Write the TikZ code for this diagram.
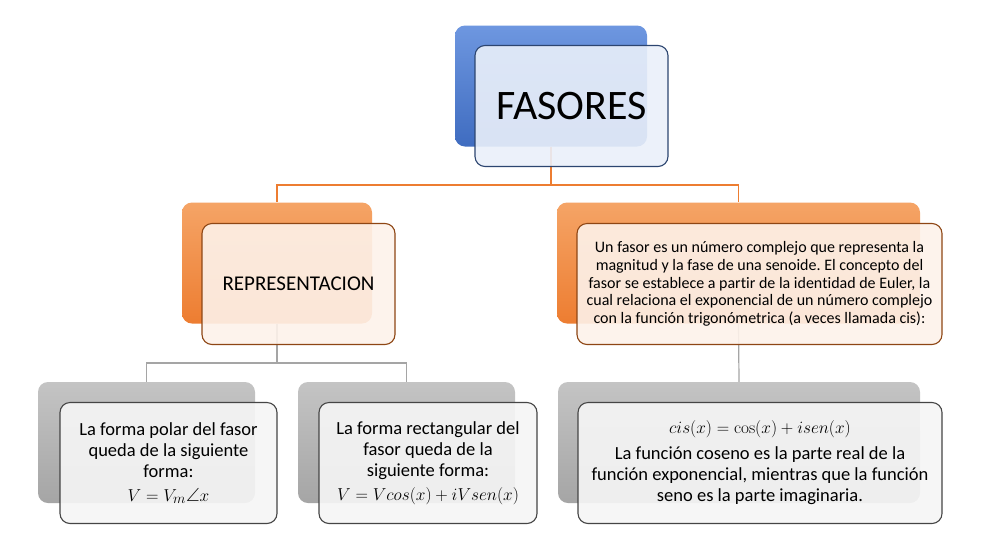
\documentclass[tikz,border=0pt]{standalone}
\usepackage{amsmath,amssymb}
\usepackage[no-math]{fontspec}
\setmainfont{Carlito}[Ligatures=NoCommon]
\usetikzlibrary{positioning}
\frenchspacing
\definecolor{azul}{HTML}{3F6CC0}
\definecolor{azulclaro}{HTML}{6E97E0}
\definecolor{azulfondo}{HTML}{EAF0FA}
\definecolor{azulborde}{HTML}{2C4570}
\definecolor{naranja}{HTML}{ED7D31}
\definecolor{naranjaclaro}{HTML}{F5A466}
\definecolor{naranjafondo}{HTML}{FDF2EA}
\definecolor{naranjaborde}{HTML}{8E4614}
\definecolor{gris}{HTML}{A5A5A5}
\definecolor{grisclaro}{HTML}{C4C4C4}
\definecolor{grisfondo}{HTML}{F6F6F6}
\definecolor{grisborde}{HTML}{454545}
\newcommand{\formula}[1]{{\fontsize{19}{21}\selectfont$#1$}}
\begin{document}
\begin{tikzpicture}[x=1pt,y=-1pt,
	caja/.style={rounded corners=10pt,minimum width=#1,minimum height=121pt,inner sep=0pt},
	frente/.style={fill opacity=0.9,text opacity=1,line width=1.1pt,align=center},
	azulada/.style={caja=#1,frente,draw=azulborde,fill=azulfondo},
	naranjada/.style={caja=#1,frente,draw=naranjaborde,fill=naranjafondo},
	grisada/.style={caja=#1,frente,draw=grisborde,fill=grisfondo},
	txt/.style={font=\fontsize{18.5}{21}\selectfont}]
\useasboundingbox[fill=white] (0,0) rectangle (1008,555);
\node[caja=192pt,top color=azulclaro,bottom color=azul] (fasores0) at (551,86) {};
\node[caja=190pt,top color=naranjaclaro,bottom color=naranja] (repr0) at (277,263) {};
\node[caja=363pt,top color=naranjaclaro,bottom color=naranja] (fasor0) at (738.5,263) {};
\node[caja=217pt,top color=grisclaro,bottom color=gris] (polar0) at (146.5,442.5) {};
\node[caja=217pt,top color=grisclaro,bottom color=gris] (rect0) at (406.5,442.5) {};
\node[caja=362pt,top color=grisclaro,bottom color=gris] (cis0) at (739,442.5) {};
\coordinate (rama1) at (0,185);
\coordinate (rama2) at (0,363);
\draw[naranja,line width=1.2pt] (fasores0.south) -- (fasores0.south |- rama1) -| (repr0.north);
\draw[naranja,line width=1.2pt] (fasores0.south |- rama1) -| (fasor0.north);
\draw[gris,line width=1.2pt] (repr0.south) -- (repr0.south |- rama2) -| (polar0.north);
\draw[gris,line width=1.2pt] (repr0.south |- rama2) -| (rect0.north);
\draw[gris,line width=1.2pt] (fasor0.south) -- (cis0.north);
\node[azulada=193pt] (fasores) at ([shift={(20.5,20)}]fasores0.center) {\fontsize{42}{50}\selectfont FASORES};
\node[naranjada=193pt] (repr) at ([shift={(21.5,21)}]repr0.center) {\fontsize{21}{24}\selectfont REPRESENTACION};
\node[naranjada=365pt,font=\fontsize{16}{17.7}\selectfont] (fasor) at ([shift={(21,21)}]fasor0.center)
	{Un fasor es un número complejo que representa la\\ magnitud y la fase de una senoide. El concepto del\\
	fasor se establece a partir de la identidad de Euler, la\\ cual relaciona el exponencial de un número complejo\\
	con la función trigonómetrica (a veces llamada cis):};
\node[grisada=217pt,txt] (polar) at ([shift={(22,20.5)}]polar0.center)
	{La forma polar del fasor\\ queda de la siguiente\\ forma:\\[3pt] \formula{V=V_m\angle x}};
\node[grisada=218pt,txt] (rect) at ([shift={(21.5,20.5)}]rect0.center)
	{La forma rectangular del\\ fasor queda de la\\ siguiente forma:\\[3pt] \formula{V=Vcos(x)+iVsen(x)}};
\node[grisada=364pt,txt] (cis) at ([shift={(21,20.5)}]cis0.center)
	{\formula{cis(x)=\cos(x)+isen(x)}\\[5pt] La función coseno es la parte real de la\\
	función exponencial, mientras que la función\\ seno es la parte imaginaria.};
\end{tikzpicture}
\end{document}
